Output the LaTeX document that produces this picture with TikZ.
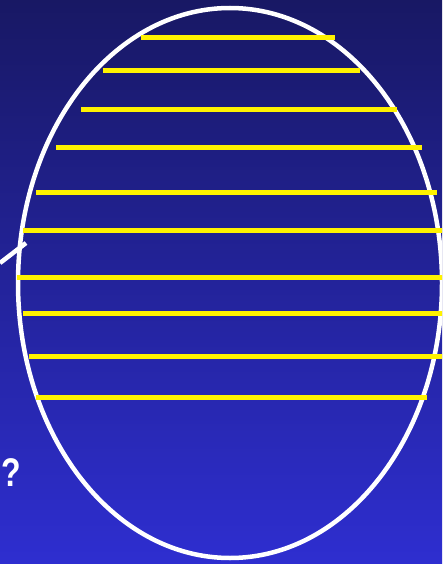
\documentclass[tikz,border=0pt]{standalone}
\usepackage{fontspec}
\setmainfont{Liberation Sans}
\definecolor{bgtop}{RGB}{24,24,100}
\definecolor{bgbot}{RGB}{46,46,208}
\begin{document}
\begin{tikzpicture}[x=1pt, y=-1pt,
    rim/.style={draw=white, line width=4.5pt},
    scanline/.style={draw=yellow, line width=5pt},
    mark label/.style={text=white, inner sep=0pt, font=\bfseries\fontsize{40}{40}\selectfont},
]
    % Background
    \shade[top color=bgtop, bottom color=bgbot] (0,0) rectangle (442,564);
    \useasboundingbox (0,0) rectangle (442,564);
    \clip (0,0) rectangle (442,564);

    % Outline
    \draw[rim] (230,283) ellipse [x radius=212pt, y radius=275pt];
    \coordinate (tipa) at (0,263);
    \coordinate (tipb) at (26,243);
    \draw[rim] (tipa) -- (tipb);

    % Scan lines
    \foreach \y/\xa/\xb in {38/141/335, 71/103/360, 110/81/397, 148/56/422,
        192/36/437, 230/23/444, 277/17/444, 313/23/444, 356/29/444, 397/36/427}
        \draw[scanline] (\xa,\y) -- (\xb,\y);

    % Label
    \node[mark label, xscale=0.8] (qmark) at (11,473) {?};
\end{tikzpicture}
\end{document}
